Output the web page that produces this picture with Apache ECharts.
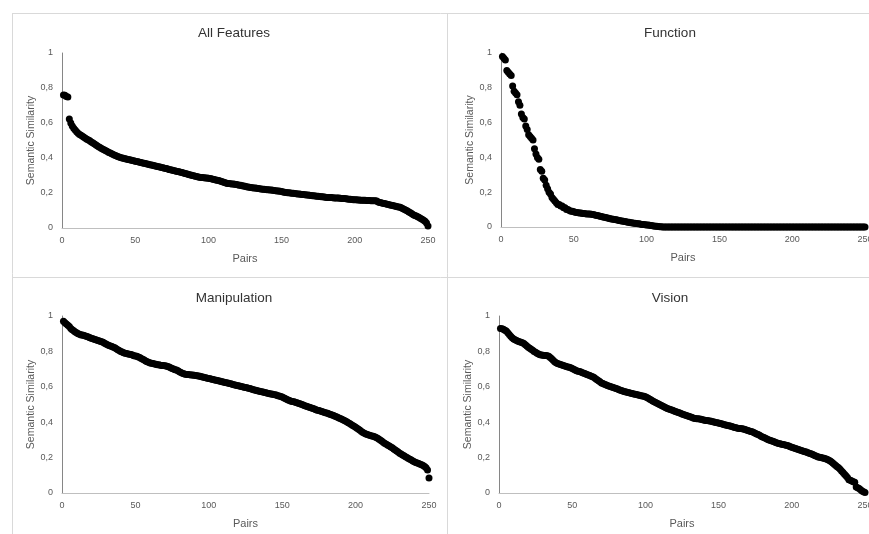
<!DOCTYPE html>
<html>
<head>
<meta charset="utf-8">
<script src="https://cdn.jsdelivr.net/npm/echarts@6/dist/echarts.min.js"></script>
<style>
html,body{margin:0;padding:0;background:#fff;}
#c{width:869px;height:534px;}
</style>
</head>
<body>
<div id="c"></div>
<script>
const titles = ["All Features", "Function", "Manipulation", "Vision"];
const xTicks = [0, 50, 100, 150, 200, 250];
const yTicks = [0, 0.2, 0.4, 0.6, 0.8, 1];

const allFeatures = [
0.760,0.758,0.752,0.748,0.623,0.600,0.583,0.570,0.560,0.550,
0.541,0.535,0.530,0.524,0.519,0.513,0.507,0.503,0.498,0.492,
0.487,0.481,0.476,0.470,0.465,0.460,0.455,0.450,0.446,0.441,
0.437,0.432,0.428,0.424,0.420,0.416,0.413,0.409,0.406,0.403,
0.400,0.398,0.396,0.394,0.392,0.390,0.388,0.386,0.384,0.382,
0.380,0.378,0.376,0.374,0.372,0.370,0.368,0.366,0.364,0.362,
0.360,0.358,0.356,0.354,0.352,0.350,0.348,0.346,0.344,0.342,
0.340,0.338,0.335,0.333,0.331,0.329,0.327,0.325,0.323,0.321,
0.319,0.317,0.314,0.312,0.310,0.307,0.305,0.303,0.300,0.298,
0.296,0.294,0.292,0.290,0.289,0.288,0.287,0.286,0.286,0.285,
0.283,0.281,0.279,0.277,0.275,0.273,0.271,0.269,0.266,0.263,
0.260,0.257,0.255,0.254,0.253,0.252,0.251,0.250,0.249,0.247,
0.245,0.244,0.242,0.240,0.238,0.236,0.235,0.233,0.232,0.230,
0.229,0.228,0.227,0.226,0.224,0.223,0.222,0.221,0.220,0.219,
0.218,0.217,0.217,0.216,0.215,0.213,0.212,0.211,0.210,0.208,
0.206,0.204,0.203,0.202,0.201,0.200,0.199,0.198,0.197,0.196,
0.195,0.194,0.193,0.192,0.191,0.190,0.189,0.188,0.187,0.186,
0.185,0.184,0.183,0.182,0.181,0.180,0.179,0.178,0.177,0.176,
0.175,0.175,0.174,0.174,0.173,0.172,0.172,0.171,0.171,0.170,
0.169,0.168,0.168,0.167,0.166,0.165,0.164,0.163,0.162,0.161,
0.161,0.160,0.160,0.159,0.159,0.158,0.158,0.157,0.157,0.157,
0.156,0.156,0.156,0.156,0.155,0.148,0.146,0.144,0.142,0.140,
0.138,0.136,0.134,0.132,0.130,0.128,0.126,0.124,0.122,0.120,
0.118,0.114,0.110,0.106,0.102,0.097,0.092,0.087,0.082,0.076,
0.072,0.068,0.064,0.060,0.055,0.050,0.045,0.038,0.028,0.012
];

const functionSim = [
0.980,0.970,0.960,0.900,0.890,0.880,0.870,0.810,0.780,0.770,
0.760,0.720,0.700,0.650,0.630,0.620,0.580,0.560,0.530,0.520,
0.510,0.500,0.450,0.420,0.400,0.390,0.330,0.320,0.280,0.270,
0.240,0.220,0.200,0.190,0.170,0.160,0.150,0.140,0.130,0.130,
0.120,0.120,0.110,0.110,0.100,0.100,0.095,0.090,0.090,0.088,
0.085,0.083,0.082,0.080,0.080,0.078,0.077,0.076,0.075,0.075,
0.074,0.073,0.072,0.070,0.068,0.066,0.064,0.062,0.060,0.058,
0.056,0.054,0.052,0.050,0.048,0.046,0.045,0.043,0.042,0.040,
0.038,0.036,0.035,0.033,0.031,0.030,0.028,0.027,0.025,0.024,
0.022,0.021,0.020,0.019,0.018,0.016,0.015,0.014,0.013,0.012,
0.011,0.010,0.008,0.007,0.006,0.005,0.004,0.003,0.002,0.001,
0,0,0,0,0,0,0,0,0,0,
0,0,0,0,0,0,0,0,0,0,
0,0,0,0,0,0,0,0,0,0,
0,0,0,0,0,0,0,0,0,0,
0,0,0,0,0,0,0,0,0,0,
0,0,0,0,0,0,0,0,0,0,
0,0,0,0,0,0,0,0,0,0,
0,0,0,0,0,0,0,0,0,0,
0,0,0,0,0,0,0,0,0,0,
0,0,0,0,0,0,0,0,0,0,
0,0,0,0,0,0,0,0,0,0,
0,0,0,0,0,0,0,0,0,0,
0,0,0,0,0,0,0,0,0,0,
0,0,0,0,0,0,0,0,0,0
];

const manipulation = [
0.970,0.962,0.955,0.948,0.940,0.930,0.922,0.916,0.910,0.905,
0.900,0.897,0.893,0.892,0.890,0.887,0.884,0.881,0.877,0.874,
0.871,0.869,0.866,0.863,0.860,0.857,0.854,0.851,0.846,0.842,
0.838,0.834,0.830,0.827,0.824,0.820,0.815,0.810,0.805,0.800,
0.796,0.793,0.790,0.788,0.786,0.784,0.782,0.779,0.776,0.774,
0.772,0.769,0.765,0.760,0.756,0.751,0.746,0.742,0.738,0.735,
0.733,0.731,0.729,0.727,0.725,0.724,0.722,0.721,0.720,0.719,
0.718,0.715,0.712,0.708,0.704,0.700,0.697,0.695,0.690,0.685,
0.681,0.677,0.674,0.671,0.670,0.669,0.668,0.667,0.666,0.665,
0.664,0.663,0.661,0.659,0.657,0.655,0.653,0.651,0.649,0.647,
0.645,0.643,0.641,0.639,0.637,0.635,0.633,0.631,0.629,0.627,
0.625,0.623,0.621,0.619,0.617,0.614,0.612,0.610,0.608,0.606,
0.604,0.602,0.600,0.598,0.596,0.594,0.592,0.590,0.588,0.585,
0.582,0.580,0.578,0.576,0.574,0.572,0.570,0.568,0.566,0.564,
0.562,0.560,0.559,0.557,0.555,0.553,0.550,0.548,0.545,0.542,
0.538,0.534,0.530,0.526,0.522,0.519,0.517,0.515,0.513,0.510,
0.507,0.504,0.501,0.498,0.495,0.492,0.489,0.486,0.483,0.480,
0.477,0.474,0.471,0.468,0.466,0.463,0.460,0.457,0.455,0.452,
0.450,0.447,0.444,0.441,0.438,0.434,0.431,0.427,0.423,0.419,
0.415,0.411,0.407,0.402,0.397,0.392,0.387,0.382,0.377,0.372,
0.366,0.360,0.354,0.348,0.342,0.337,0.333,0.330,0.327,0.325,
0.322,0.320,0.318,0.314,0.309,0.304,0.298,0.292,0.286,0.280,
0.275,0.270,0.265,0.260,0.255,0.249,0.243,0.237,0.231,0.225,
0.220,0.215,0.210,0.205,0.200,0.195,0.190,0.186,0.181,0.177,
0.173,0.170,0.166,0.163,0.159,0.156,0.150,0.143,0.130,0.085
];

const vision = [
0.930,0.928,0.925,0.920,0.915,0.905,0.895,0.885,0.877,0.870,
0.866,0.862,0.858,0.855,0.852,0.849,0.845,0.838,0.831,0.824,
0.818,0.812,0.806,0.800,0.795,0.790,0.785,0.781,0.779,0.778,
0.777,0.777,0.776,0.772,0.765,0.758,0.750,0.742,0.736,0.732,
0.729,0.726,0.723,0.720,0.717,0.714,0.712,0.710,0.707,0.703,
0.699,0.695,0.691,0.688,0.686,0.683,0.680,0.677,0.674,0.670,
0.667,0.664,0.660,0.657,0.652,0.646,0.640,0.634,0.628,0.622,
0.618,0.614,0.611,0.608,0.605,0.602,0.599,0.596,0.593,0.590,
0.587,0.584,0.581,0.578,0.575,0.572,0.570,0.568,0.566,0.564,
0.562,0.560,0.558,0.556,0.554,0.552,0.550,0.548,0.546,0.544,
0.540,0.535,0.530,0.525,0.520,0.516,0.512,0.507,0.503,0.498,
0.494,0.490,0.486,0.482,0.478,0.475,0.472,0.469,0.466,0.462,
0.459,0.456,0.453,0.450,0.447,0.444,0.441,0.438,0.435,0.432,
0.429,0.426,0.423,0.421,0.420,0.419,0.418,0.416,0.414,0.412,
0.410,0.409,0.408,0.407,0.405,0.403,0.401,0.399,0.397,0.395,
0.393,0.391,0.389,0.386,0.384,0.382,0.380,0.378,0.376,0.373,
0.370,0.368,0.366,0.365,0.364,0.363,0.361,0.359,0.356,0.353,
0.350,0.348,0.346,0.342,0.338,0.334,0.330,0.326,0.321,0.317,
0.313,0.309,0.305,0.301,0.298,0.295,0.292,0.289,0.286,0.283,
0.280,0.278,0.276,0.274,0.272,0.270,0.268,0.265,0.262,0.259,
0.256,0.253,0.250,0.247,0.244,0.241,0.238,0.236,0.233,0.231,
0.228,0.225,0.222,0.219,0.215,0.211,0.207,0.204,0.202,0.200,
0.198,0.196,0.193,0.190,0.186,0.182,0.176,0.170,0.163,0.155,
0.149,0.142,0.134,0.125,0.116,0.106,0.098,0.088,0.075,0.072,
0.068,0.064,0.061,0.034,0.030,0.026,0.018,0.012,0.007,0.003
];

const seriesValues = [allFeatures, functionSim, manipulation, vision];

const FONT = '"Liberation Sans", Arial, sans-serif';
const grids = [
  {left: 62, top: 53, width: 366, height: 175},
  {left: 501, top: 53, width: 364, height: 174},
  {left: 62, top: 316, width: 367, height: 177},
  {left: 499, top: 316, width: 366, height: 177}
];
const titlePos = [[229, 21], [665, 21], [229, 286], [665, 286]];

const chart = echarts.init(document.getElementById('c'), null, {renderer: 'canvas'});
const option = {
  backgroundColor: '#ffffff',
  animation: false,
  title: titles.map((t, i) => ({
    text: t, left: titlePos[i][0], top: titlePos[i][1], textAlign: 'center',
    textStyle: {fontFamily: FONT, fontSize: 13.5, fontWeight: 'normal', color: '#333333'}
  })),
  grid: grids.map(g => Object.assign({containLabel: false, outerBoundsMode: 'none'}, g)),
  xAxis: grids.map((g, i) => ({
    type: 'value', gridIndex: i, min: xTicks[0], max: xTicks[xTicks.length - 1], interval: 50,
    name: 'Pairs', nameLocation: 'middle', nameGap: 25,
    nameTextStyle: {fontFamily: FONT, fontSize: 11, color: '#595959'},
    axisLine: {show: true, lineStyle: {color: '#bfbfbf', width: 1}},
    axisTick: {show: false},
    splitLine: {show: false},
    axisLabel: {fontFamily: FONT, fontSize: 9, color: '#595959', margin: 8, hideOverlap: false}
  })),
  yAxis: grids.map((g, i) => ({
    type: 'value', gridIndex: i, min: yTicks[0], max: yTicks[yTicks.length - 1], interval: 0.2,
    name: 'Semantic Similarity', nameLocation: 'middle', nameGap: 20,
    nameTextStyle: {fontFamily: FONT, fontSize: 10.5, color: '#595959'},
    axisLine: {show: true, lineStyle: {color: '#868686', width: 1}},
    axisTick: {show: false},
    splitLine: {show: false},
    axisLabel: {fontFamily: FONT, fontSize: 9, color: '#595959', margin: 9,
      formatter: v => String(Math.round(v * 10) / 10).replace('.', ',')}
  })),
  series: seriesValues.map((vals, i) => ({
    type: 'scatter', xAxisIndex: i, yAxisIndex: i,
    symbol: 'circle', symbolSize: 7,
    itemStyle: {color: '#000000', opacity: 1},
    data: vals.map((v, k) => [k + 1, v])
  })),
  graphic: [
    {type: 'line', shape: {x1: 12, y1: 13.5, x2: 869, y2: 13.5}, style: {stroke: '#d9d9d9', lineWidth: 1}, silent: true},
    {type: 'line', shape: {x1: 12, y1: 277.5, x2: 869, y2: 277.5}, style: {stroke: '#d9d9d9', lineWidth: 1}, silent: true},
    {type: 'line', shape: {x1: 12.5, y1: 13, x2: 12.5, y2: 534}, style: {stroke: '#d9d9d9', lineWidth: 1}, silent: true},
    {type: 'line', shape: {x1: 447.5, y1: 13, x2: 447.5, y2: 534}, style: {stroke: '#d9d9d9', lineWidth: 1}, silent: true}
  ]
};
chart.setOption(option);
</script>
</body>
</html>
